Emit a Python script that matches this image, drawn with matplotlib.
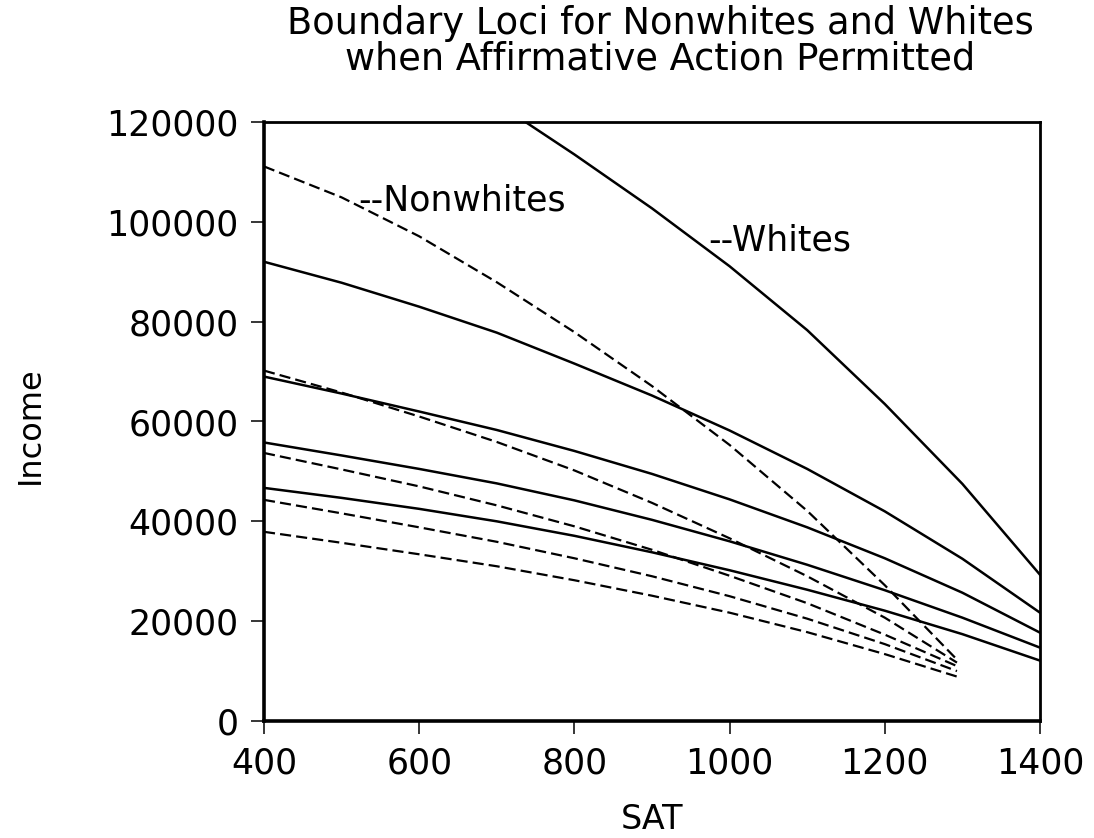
import numpy as np
import matplotlib
matplotlib.use('Agg')
import matplotlib.pyplot as plt

# SAT grid and boundary loci
sat = [400, 500, 600, 700, 800, 900, 1000, 1100, 1200, 1300, 1400]

# whites (solid); the top locus only enters the frame near SAT 737
sat_w_top = [737, 800, 900, 1000, 1100, 1200, 1300, 1400]
white_top = [120000, 113500, 102700, 91100, 78300, 63500, 47500, 29300]
white_2 = [92000, 87800, 83000, 77800, 71600, 65200, 58200, 50500, 42000, 32500, 21700]
white_3 = [69000, 65600, 62000, 58300, 54100, 49500, 44400, 38800, 32600, 25700, 17700]
white_4 = [55800, 53200, 50500, 47600, 44200, 40300, 36000, 31300, 26200, 20700, 14700]
white_5 = [46700, 44700, 42500, 40000, 37100, 33800, 30200, 26300, 22100, 17400, 12100]

# nonwhites (dashed), all ending near SAT 1293
sat_n = [400, 500, 600, 700, 800, 900, 1000, 1100, 1200, 1293]
nonwhite_1 = [111100, 104900, 97100, 87900, 77900, 67100, 55300, 42100, 27200, 12300]
nonwhite_2 = [70200, 65800, 61000, 55900, 50200, 43700, 36600, 29000, 20700, 11700]
nonwhite_3 = [53700, 50400, 47000, 43200, 39000, 34300, 29100, 23600, 17300, 11000]
nonwhite_4 = [44300, 41600, 38800, 35900, 32600, 29000, 25000, 20500, 15400, 10000]
nonwhite_5 = [37900, 35700, 33400, 31000, 28200, 25100, 21700, 17800, 13400, 8900]

fs = 25

fig = plt.figure(figsize=(10.94, 8.38), dpi=100)
ax = fig.add_axes([264 / 1094, 1 - 721 / 838, 776 / 1094, 599 / 838])

ax.plot(sat_w_top, white_top, color='black', lw=1.8)
for w in [white_2, white_3, white_4, white_5]:
    ax.plot(sat, w, color='black', lw=1.8)
for n in [nonwhite_1, nonwhite_2, nonwhite_3, nonwhite_4, nonwhite_5]:
    ax.plot(sat_n, n, color='black', lw=1.6, dashes=(5, 2.3))

ax.text(522, 104300, '--Nonwhites', fontsize=fs, ha='left', va='center')
ax.text(973, 96300, '--Whites', fontsize=fs, ha='left', va='center')

ax.set_xlim(400, 1400)
ax.set_ylim(0, 120000)
ax.set_xticks([400, 600, 800, 1000, 1200, 1400])
ax.set_yticks([0, 20000, 40000, 60000, 80000, 100000, 120000])
ax.tick_params(direction='out', length=9.5, width=1.1, pad=9, labelsize=fs)

for side in ['left', 'bottom']:
    ax.spines[side].set_linewidth(2.6)
for side in ['top', 'right']:
    ax.spines[side].set_linewidth(2.0)

ax.set_xlabel('SAT', fontsize=24, va='center')
ax.xaxis.set_label_coords(0.5, -0.165)
ax.set_ylabel('Income', fontsize=23, va='center')
ax.yaxis.set_label_coords(-0.3015, 0.494)

fig.text(660 / 1094, 1 - 41 / 838,
         'Boundary Loci for Nonwhites and Whites\nwhen Affirmative Action Permitted',
         fontsize=26.5, ha='center', va='center', linespacing=0.95)

fig.savefig('out.png', dpi=100)
